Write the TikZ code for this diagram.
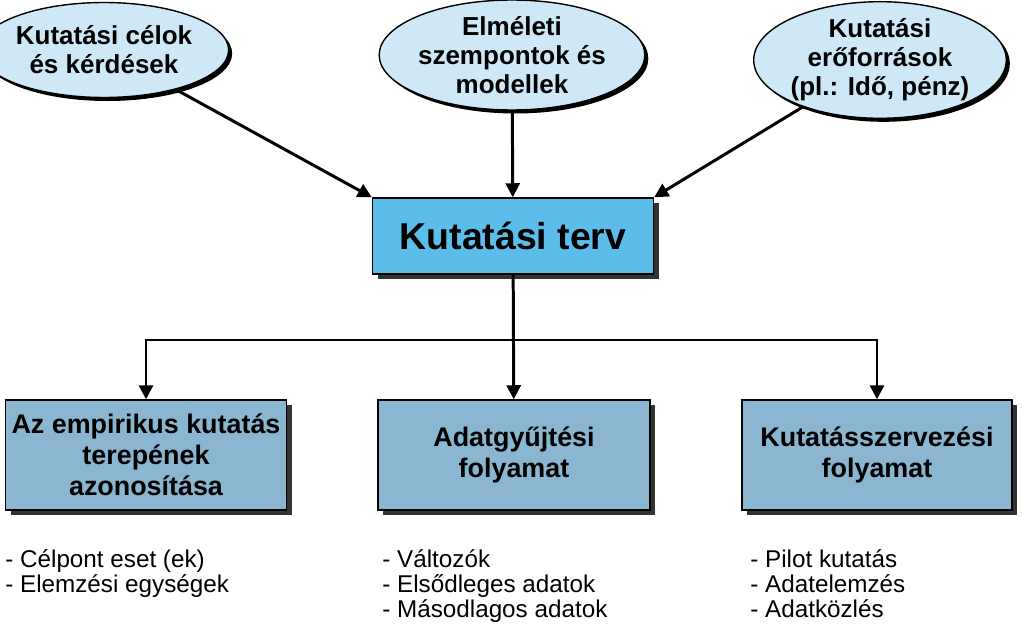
\documentclass[tikz,border=0pt]{standalone}
\usepackage{fontspec}
\setmainfont{Liberation Sans}
\usetikzlibrary{shapes.geometric,arrows.meta,shadows}
\definecolor{ellfill}{HTML}{CFE8F7}
\definecolor{mainfill}{HTML}{5CBDEA}
\definecolor{boxfill}{HTML}{8AB6D2}
\tikzset{
 ell/.style={ellipse,draw,line width=0.8pt,fill=ellfill,font=\bfseries\fontsize{14.8}{16.5}\selectfont,align=center,inner sep=0pt,drop shadow={shadow xshift=2pt,shadow yshift=-2pt,fill=black,opacity=1}},
 bbox/.style={rectangle,draw,line width=0.8pt,fill=boxfill,font=\bfseries\fontsize{15.3}{17.5}\selectfont,align=center,drop shadow={shadow xshift=3pt,shadow yshift=-3pt,fill=black!80,opacity=1}},
 arr/.style={line width=1.7pt,-{Triangle[length=8pt,width=8pt]}},
 lst/.style={anchor=north west,align=left,font=\fontsize{13.8}{14.2}\selectfont,inner sep=0pt}
}
\begin{document}
\begin{tikzpicture}[x=0.02cm,y=-0.02cm]
\useasboundingbox (0,0) rectangle (1022,625);
\node[ell,minimum width=4.08cm,minimum height=1.9cm] (e1) at (104,50) {Kutatási célok\\és kérdések};
\node[ell,minimum width=4.64cm,minimum height=2.2cm] (e2) at (512,55) {Elméleti\\szempontok és\\modellek};
\node[ell,minimum width=4.24cm,minimum height=2.12cm] (e3) at (880,60) {Kutatási\\erőforrások\\(pl.: Idő, pénz)};
\node[bbox,fill=mainfill,minimum width=5.62cm,minimum height=1.52cm,font=\bfseries\fontsize{21.3}{26}\selectfont] (m) at (513,236) {Kutatási terv};
\node[bbox,minimum width=5.54cm,minimum height=2.2cm] (b1) at (146,455) {Az empirikus kutatás\\terepének\\azonosítása};
\node[bbox,minimum width=5.44cm,minimum height=2.2cm] (b2) at (514,455) {Adatgyűjtési\\folyamat};
\node[bbox,minimum width=5.4cm,minimum height=2.2cm] (b3) at (877,455) {Kutatásszervezési\\folyamat};
\coordinate (j) at (513,340);
\draw[arr] (e1) -- (m.north west);
\draw[arr] (e2) -- (m);
\draw[arr] (e3) -- (m.north east);
\draw[arr] (m) -- (b2);
\draw[arr] (j) -| (b1);
\draw[arr] (j) -| (b3);
\node[lst] (l1) at (5,549) {- Célpont eset (ek)\\- Elemzési egységek};
\node[lst] (l2) at (382,549) {- Változók\\- Elsődleges adatok\\- Másodlagos adatok};
\node[lst] (l3) at (750,549) {- Pilot kutatás\\- Adatelemzés\\- Adatközlés};
\end{tikzpicture}
\end{document}
